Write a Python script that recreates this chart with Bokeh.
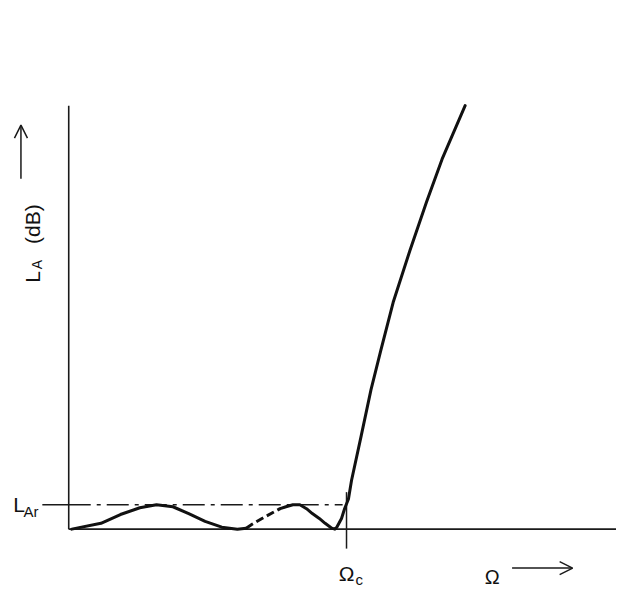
from bokeh.plotting import figure
from bokeh.models import Range1d, Arrow, OpenHead
from bokeh.core.properties import value
from bokeh.embed import file_html
from bokeh.resources import INLINE
import math

# Schematic Chebyshev low-pass response: x = Omega / Omega_c, y = L_A in units of L_Ar
ripple_x = [0.011, 0.116, 0.186, 0.256, 0.316, 0.375, 0.432, 0.491, 0.551, 0.607, 0.639]
ripple_y = [0.0, 0.24, 0.6, 0.88, 1.0, 0.92, 0.64, 0.32, 0.08, 0.0, 0.04]

gap_x = [0.639, 0.660, 0.702, 0.761]
gap_y = [0.04, 0.2, 0.48, 0.84]

rise_x = [0.761, 0.782, 0.807, 0.832, 0.856, 0.877, 0.902, 0.923, 0.947, 0.958,
          0.965, 0.982, 0.993, 1.007, 1.018, 1.053, 1.088, 1.123, 1.168, 1.228,
          1.288, 1.344, 1.427]
rise_y = [0.84, 0.92, 1.0, 1.0, 0.84, 0.64, 0.44, 0.24, 0.04, 0.0,
          0.08, 0.44, 0.84, 1.24, 2.0, 3.84, 5.72, 7.32, 9.32, 11.44,
          13.44, 15.2, 17.4]

omega_c = 1.0
L_Ar = 1.0
y_top = 17.4

FONT = value("Liberation Sans")
INK = "#111111"
AX = "#1a1a1a"

p = figure(width=616, height=589, output_backend="svg", toolbar_location=None,
           x_range=Range1d(-0.2456, 1.9719), y_range=Range1d(-2.48, 21.72),
           min_border=0, x_axis_type=None, y_axis_type=None)
p.outline_line_color = None
p.xgrid.visible = False
p.ygrid.visible = False
p.background_fill_color = "white"

# axes
p.segment(x0=[0], y0=[0], x1=[0], y1=[y_top], line_color=AX, line_width=1.6)
p.segment(x0=[0], y0=[0], x1=[1.972], y1=[0], line_color=AX, line_width=1.6)
# Omega_c tick
p.segment(x0=[omega_c], y0=[-0.8], x1=[omega_c], y1=[1.52], line_color=AX, line_width=1.5)
# L_Ar tick and dash-dot level
p.segment(x0=[-0.095], y0=[L_Ar], x1=[0], y1=[L_Ar], line_color=AX, line_width=1.5)
p.line([0, 0.986], [L_Ar, L_Ar], line_color=AX, line_width=1.5, line_dash="22 6 4 6")

# response curve
p.line(ripple_x, ripple_y, line_color=INK, line_width=3, line_join="round", line_cap="round")
p.line(gap_x, gap_y, line_color=INK, line_width=3, line_dash="8 4")
p.line(rise_x, rise_y, line_color=INK, line_width=3, line_join="round", line_cap="round")

# labels
p.text(x=[-0.2], y=[1.0], text=["L"], text_font=FONT, text_font_size="21px",
       text_baseline="alphabetic", text_color=INK)
p.text(x=[-0.163], y=[0.72], text=["Ar"], text_font=FONT, text_font_size="15px",
       text_baseline="alphabetic", text_color=INK)

p.text(x=[0.972], y=[-1.84], text=["Ω"], text_font=FONT, text_font_size="21px",
       text_baseline="alphabetic", text_color=INK)
p.text(x=[1.032], y=[-2.06], text=["c"], text_font=FONT, text_font_size="15px",
       text_baseline="alphabetic", text_color=INK)

p.text(x=[1.498], y=[-1.96], text=["Ω"], text_font=FONT, text_font_size="20px",
       text_baseline="alphabetic", text_color=INK)
p.add_layout(Arrow(end=OpenHead(size=13, line_width=1.5, line_color=AX),
                   x_start=1.596, y_start=-1.6, x_end=1.814, y_end=-1.6,
                   line_width=1.5, line_color=AX))

# rotated y label L_A (dB)
p.text(x=[-0.13], y=[10.12], text=["L"], angle=math.pi / 2, text_font=FONT,
       text_font_size="21px", text_baseline="alphabetic", text_color=INK)
p.text(x=[-0.116], y=[10.68], text=["A"], angle=math.pi / 2, text_font=FONT,
       text_font_size="14px", text_baseline="alphabetic", text_color=INK)
p.text(x=[-0.13], y=[11.72], text=["(dB)"], angle=math.pi / 2, text_font=FONT,
       text_font_size="21px", text_baseline="alphabetic", text_color=INK)
p.add_layout(Arrow(end=OpenHead(size=13, line_width=1.5, line_color=AX),
                   x_start=-0.172, y_start=14.4, x_end=-0.172, y_end=16.6,
                   line_width=1.5, line_color=AX))

open("out.html", "w").write(file_html(p, INLINE))
